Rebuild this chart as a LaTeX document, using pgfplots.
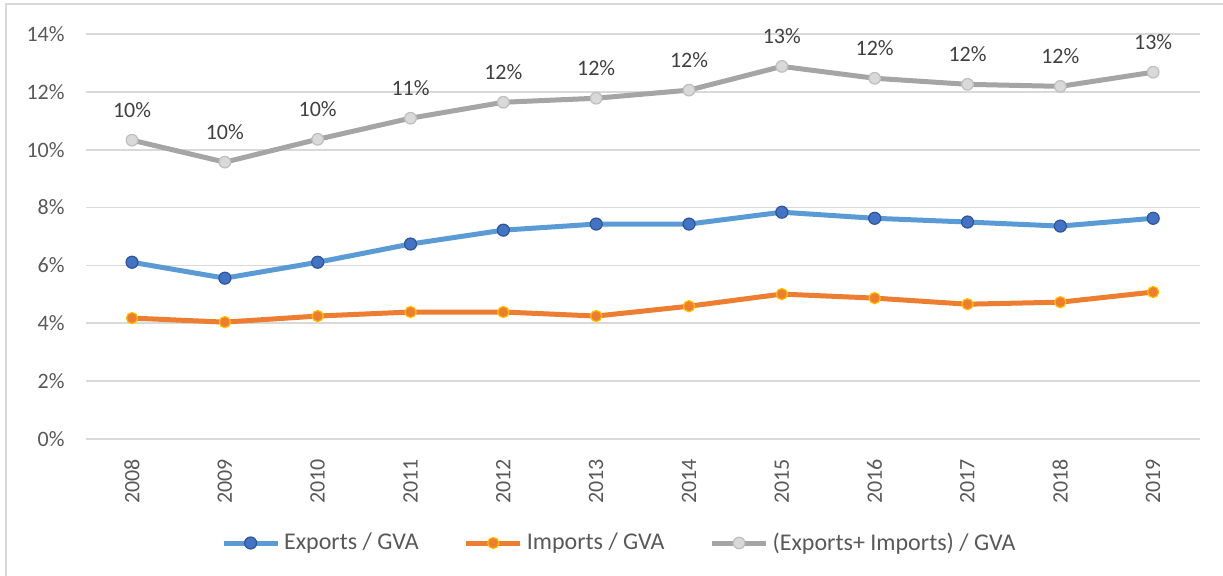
\documentclass[border=0pt]{standalone}
\usepackage{pgfplots}
\pgfplotsset{compat=1.18}
\usepackage{fontspec}
\setmainfont{Carlito}
\definecolor{gridc}{HTML}{D9D9D9}
\definecolor{tickc}{HTML}{595959}
\definecolor{labc}{HTML}{404040}
\definecolor{bline}{HTML}{5B9BD5}
\definecolor{bmark}{HTML}{4472C4}
\definecolor{bedge}{HTML}{2F5597}
\definecolor{oline}{HTML}{ED7D31}
\definecolor{oedge}{HTML}{FFC000}
\definecolor{gline}{HTML}{A5A5A5}
\definecolor{gmark}{HTML}{D9D9D9}
\definecolor{gedge}{HTML}{BFBFBF}
\begin{document}
\begin{tikzpicture}
\path[use as bounding box] (-42.8pt,-68pt) rectangle (568.7pt,219.5pt);
\draw[gridc, line width=1pt] (-39.8pt,-80pt) -- (-39.8pt,217.5pt) -- (580pt,217.5pt);
\begin{axis}[
  scale only axis,
  width=557pt, height=202.5pt,
  xmin=2007.5, xmax=2019.5,
  ymin=0, ymax=14,
  axis line style={draw=none},
  major tick length=0pt,
  xtick={2008,2009,...,2019},
  ytick={0,2,...,14},
  ymajorgrids=true,
  grid style={gridc, line width=0.8pt},
  /pgf/number format/assume math mode=true,
  xticklabel={\pgfmathprintnumber[1000 sep={}]{\tick}},
  yticklabel={\pgfmathprintnumber{\tick}\%},
  tick label style={font=\fontsize{11}{13}\selectfont, text=tickc},
  xticklabel style={rotate=90, anchor=east},
  xticklabel shift=6.5pt,
  yticklabel shift=7pt,
  legend style={at={(0.48,0)}, anchor=center, yshift=-52pt, draw=none,
    font=\fontsize{12}{14}\selectfont, text=tickc,
    legend columns=3,
    /tikz/every even column/.append style={column sep=20.5pt},
    /tikz/every odd column/.append style={column sep=0pt}},
  legend cell align=left,
  legend image code/.code={\draw[mark repeat=2,mark phase=2,#1] plot coordinates {(0pt,0pt) (13.5pt,0pt) (27pt,0pt)};},
]
\addplot[bline, line width=2.5pt, mark=*, mark size=3pt,
  mark options={fill=bmark, draw=bedge, line width=0.6pt}]
  coordinates {(2008,6.11) (2009,5.56) (2010,6.11) (2011,6.74) (2012,7.22) (2013,7.43)
    (2014,7.43) (2015,7.84) (2016,7.63) (2017,7.50) (2018,7.36) (2019,7.63)};
\addlegendentry{Exports / GVA}
\addplot[oline, line width=2.5pt, mark=*, mark size=2.8pt,
  mark options={fill=oline, draw=oedge, line width=0.6pt}]
  coordinates {(2008,4.18) (2009,4.04) (2010,4.25) (2011,4.39) (2012,4.39) (2013,4.25)
    (2014,4.59) (2015,5.01) (2016,4.87) (2017,4.66) (2018,4.73) (2019,5.08)};
\addlegendentry{Imports / GVA}
\addplot[gline, line width=2.5pt, mark=*, mark size=2.9pt,
  mark options={fill=gmark, draw=gedge, line width=0.6pt},
  point meta=y,
  nodes near coords={\pgfmathprintnumber[fixed,precision=0]{\pgfplotspointmeta}\%},
  every node near coord/.append style={anchor=center, yshift=15pt, text=labc,
    font=\fontsize{11}{13}\selectfont}]
  coordinates {(2008,10.33) (2009,9.57) (2010,10.36) (2011,11.09) (2012,11.64) (2013,11.78)
    (2014,12.06) (2015,12.88) (2016,12.47) (2017,12.26) (2018,12.19) (2019,12.68)};
\addlegendentry{(Exports+ Imports) / GVA}
\end{axis}
\end{tikzpicture}
\end{document}
